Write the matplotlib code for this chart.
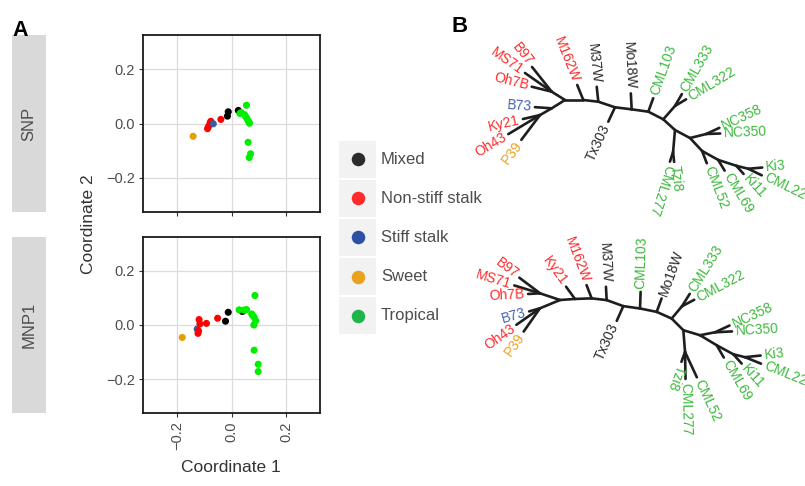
import numpy as np
import matplotlib
matplotlib.use("Agg")
import matplotlib.pyplot as plt
from matplotlib.patches import Rectangle
from matplotlib.collections import LineCollection

plt.rcParams['font.family'] = ['Liberation Sans', 'DejaVu Sans']

# ---------------- data ----------------
groups = ["Mixed", "Non-stiff stalk", "Stiff stalk", "Sweet", "Tropical"]
point_colors = ["#000000", "#FF0000", "#3B5BA5", "#E69F00", "#00EE00"]
legend_colors = ["#2B2B2B", "#FF2A2A", "#2E4FA3", "#E8A21E", "#20B54A"]
label_colors = ["#2A2A2A", "#FF2A2A", "#4060B8", "#F0A020", "#3CB93C"]

facets = ["SNP", "MNP1"]

snp_group = (["Sweet"] + ["Non-stiff stalk"] * 6 + ["Stiff stalk"] +
             ["Mixed"] * 3 + ["Tropical"] * 12)
snp_x = [-0.141,
         -0.088, -0.080, -0.076, -0.039, -0.085, -0.078,
         -0.067,
         -0.015, -0.012, 0.025,
         0.055, 0.031, 0.047, 0.055, 0.064, 0.060, 0.050, 0.066, 0.061, 0.070, 0.065, 0.036]
snp_y = [-0.047,
         -0.019, -0.004, 0.008, 0.015, -0.012, 0.003,
         -0.001,
         0.027, 0.043, 0.048,
         0.067, 0.037, 0.033, 0.021, 0.005, 0.012, 0.028, 0.001, -0.069, -0.111, -0.125, 0.040]

mnp_group = (["Sweet"] + ["Stiff stalk"] + ["Non-stiff stalk"] * 6 +
             ["Mixed"] * 3 + ["Tropical"] * 12)
mnp_x = [-0.181,
         -0.126,
         -0.123, -0.119, -0.116, -0.092, -0.051, -0.121,
         -0.022, -0.012, 0.040,
         0.086, 0.028, 0.055, 0.074, 0.083, 0.089, 0.082, 0.045, 0.083, 0.098, 0.098, 0.078]
mnp_y = [-0.046,
         -0.015,
         -0.031, 0.020, 0.004, 0.006, 0.025, -0.022,
         0.014, 0.047, 0.050,
         0.109, 0.056, 0.057, 0.041, 0.029, 0.016, 0.000, 0.055, -0.093, -0.145, -0.172, 0.035]

ticks = [-0.2, 0.0, 0.2]
tick_labels = ["\u22120.2", "0.0", "0.2"]

# tip groups for the trees
tip_names = ["B97", "MS71", "Oh7B", "Ky21", "Oh43", "M162W", "B73", "P39",
             "M37W", "Mo18W", "Tx303",
             "CML103", "CML333", "CML322", "Tzi8", "CML277", "NC358", "NC350",
             "CML52", "CML69", "Ki11", "Ki3", "CML228"]
tip_groups = (["Non-stiff stalk"] * 6 + ["Stiff stalk", "Sweet"] + ["Mixed"] * 3 +
              ["Tropical"] * 12)

# trees: (parent, child, branch angle in degrees, branch length)
snp_tree = [
    ("root", "u", 148, 15.7), ("u", "B97", 128.5, 31.6), ("u", "MS71", 145, 32.6),
    ("u", "Oh7B", 166, 20.6),
    ("root", "l", 212, 15.7), ("l", "B73", 176, 16.8), ("l", "l2", 210, 13.5),
    ("l2", "Ky21", 193, 17.5), ("l2", "Oh43", 211, 37), ("l2", "P39", 233, 31),
    ("root", "b1", 0, 18.3), ("b1", "M162W", 112, 16.2),
    ("b1", "b2", -6.5, 15.1), ("b2", "M37W", 96, 15),
    ("b2", "b3", -18.5, 17.6), ("b3", "Tx303", 245, 15.9),
    ("b3", "b4", -7, 16.8), ("b4", "Mo18W", 93, 16),
    ("b4", "b5", -8, 16.8), ("b5", "CML103", 70, 14.3),
    ("b5", "b6", -27, 16.8), ("b6", "c", 48.7, 17.7),
    ("c", "CML333", 60, 13.8), ("c", "CML322", 31, 13.0),
    ("b6", "b7", -42.5, 15.9), ("b7", "t", -95, 22),
    ("t", "Tzi8", -84, 10), ("t", "CML277", -108, 10.2),
    ("b7", "b8", -28, 17), ("b8", "n", 14, 16.7),
    ("n", "NC358", 25, 14.5), ("n", "NC350", 2, 14),
    ("b8", "b9", -47, 17.7), ("b9", "CML52", -69, 13.2),
    ("b9", "b10", -29, 18.4), ("b10", "CML69", -59, 12.5),
    ("b10", "b11", -18, 19), ("b11", "Ki11", -48, 11),
    ("b11", "b12", -14, 12.4), ("b12", "Ki3", 5, 14), ("b12", "CML228", -26, 15),
]
mnp_tree = [
    ("root", "u", 161.5, 21), ("u", "B97", 143, 26), ("u", "MS71", 163, 27),
    ("u", "Oh7B", 183, 12),
    ("root", "l", 202.5, 21.7), ("l", "B73", 196, 11.2),
    ("l", "Oh43", 215, 28.8), ("l", "P39", 235, 28.4),
    ("root", "b1", 4, 15), ("b1", "Ky21", 126, 15.2),
    ("b1", "b2", 2, 16.7), ("b2", "M162W", 111, 14.2),
    ("b2", "b3", -6.5, 15.1), ("b3", "M37W", 93, 13.3),
    ("b3", "b4", -20, 17.7), ("b4", "Tx303", 246, 16.1),
    ("b4", "b5", -8, 16.9), ("b5", "CML103", 88, 16.6),
    ("b5", "b6", -11.5, 17), ("b6", "Mo18W", 70, 14.3),
    ("b6", "b7", -24, 16.4), ("b7", "c", 50, 16),
    ("c", "CML333", 58, 14.7), ("c", "CML322", 28, 13.9),
    ("b7", "b8", -45, 16.5), ("b8", "t", -85.5, 21.8),
    ("t", "Tzi8", -110, 10.5), ("t", "CML277", -89, 27), ("t", "CML52", -65, 28),
    ("b8", "b9", -16.7, 17.4), ("b9", "n", 11, 15.3),
    ("n", "NC358", 25, 16), ("n", "NC350", 3, 17),
    ("b9", "b10", -31, 19.5), ("b10", "CML69", -60, 14.2),
    ("b10", "b11", -28.5, 18.9), ("b11", "Ki11", -48, 12.5),
    ("b11", "b12", -14, 12), ("b12", "Ki3", 6, 15.7), ("b12", "CML228", -22, 17.3),
]

# ---------------- figure ----------------
W, H = 805, 486
fig = plt.figure(figsize=(W / 100, H / 100), dpi=100)


def fbox(x0, y0, x1, y1):
    return [x0 / W, 1 - y1 / H, (x1 - x0) / W, (y1 - y0) / H]


gcol = dict(zip(groups, point_colors))
TXT = "#4D4D4D"

panel_boxes = [(143, 35, 320, 212), (143, 237, 320, 413)]
panel_data = [(snp_x, snp_y, snp_group), (mnp_x, mnp_y, mnp_group)]
for i, (box, (xs, ys, gs), name) in enumerate(zip(panel_boxes, panel_data, facets)):
    ax = fig.add_axes(fbox(*box))
    ax.set_xlim(-0.325, 0.325)
    ax.set_ylim(-0.325, 0.325)
    ax.set_xticks(ticks)
    ax.set_yticks(ticks)
    ax.set_yticklabels(tick_labels)
    ax.grid(True, color="#DCDCDC", lw=0.9)
    ax.set_axisbelow(True)
    for s in ax.spines.values():
        s.set_color("#1A1A1A")
        s.set_linewidth(1.3)
    ax.tick_params(length=3, width=0.8, color="#333333", labelsize=10.5,
                   labelcolor=TXT, pad=3)
    if i == 0:
        ax.tick_params(axis="x", labelbottom=False)
    else:
        ax.set_xticklabels(tick_labels, rotation=90, va="top", ha="center")
    ax.scatter(xs, ys, c=[gcol[g] for g in gs], s=26, linewidths=0, zorder=3)

    # facet strip on the left
    y0, y1 = box[1], box[3]
    sax = fig.add_axes(fbox(12, y0, 46, y1))
    sax.set_facecolor("#D9D9D9")
    sax.set_xticks([])
    sax.set_yticks([])
    for s in sax.spines.values():
        s.set_visible(False)
    sax.text(0.5, 0.5, name, rotation=90, ha="center", va="center",
             fontsize=12, color=TXT, transform=sax.transAxes)

fig.text(88 / W, 1 - 224 / H, "Coordinate 2", rotation=90, ha="center",
         va="center", fontsize=12.5, color="#333333")
fig.text(231 / W, 1 - 468 / H, "Coordinate 1", ha="center", va="center",
         fontsize=12.5, color="#333333")

# legend
lax = fig.add_axes(fbox(338, 140, 500, 335))
lax.set_xlim(0, 162)
lax.set_ylim(len(groups), 0)
lax.axis("off")
for k, (g, c) in enumerate(zip(groups, legend_colors)):
    lax.add_patch(Rectangle((1, k + 0.02), 37, 0.96, facecolor="#F2F2F2",
                            edgecolor="none"))
    lax.scatter([19.5], [k + 0.5], s=95, color=c, linewidths=0, zorder=3)
    lax.text(43, k + 0.5, g, ha="left", va="center", fontsize=12, color=TXT)

# panel letters
fig.text(12 / W, 1 - 36 / H, "A", fontsize=15.5, fontweight="bold", ha="left",
         va="baseline")
fig.text(451 / W, 1 - 32 / H, "B", fontsize=16, fontweight="bold", ha="left",
         va="baseline")

# trees
tip_color = {n: label_colors[groups.index(g)] for n, g in zip(tip_names, tip_groups)}


def draw_tree(edges, box, root):
    x0, y0, x1, y1 = box
    ax = fig.add_axes(fbox(*box))
    ax.set_xlim(x0 - root[0], x1 - root[0])
    ax.set_ylim(root[1] - y1, root[1] - y0)
    ax.axis("off")
    pos = {"root": (0.0, 0.0)}
    segs = []
    parents = {p for p, _, _, _ in edges}
    for p, c, ang, ln in edges:
        px, py = pos[p]
        a = np.deg2rad(ang)
        pos[c] = (px + ln * np.cos(a), py + ln * np.sin(a))
        segs.append([pos[p], pos[c]])
    ax.add_collection(LineCollection(segs, colors="#1E1E1E", linewidths=1.9,
                                     capstyle="round"))
    for p, c, ang, ln in edges:
        if c in parents:
            continue
        a = ang % 360
        cx, cy = pos[c]
        r = np.deg2rad(a)
        tx, ty = cx + 3.5 * np.cos(r), cy + 3.5 * np.sin(r)
        if 91 < a < 248:
            rot, ha = a - 180, "right"
        else:
            rot, ha = (a if a <= 180 else a - 360), "left"
        ax.text(tx, ty, c, rotation=rot, rotation_mode="anchor", ha=ha,
                va="center", fontsize=10, color=tip_color[c], clip_on=False)


draw_tree(snp_tree, (440, 0, 805, 243), (565, 100))
draw_tree(mnp_tree, (440, 243, 805, 486), (560, 300))

fig.savefig("out.png", dpi=100)
